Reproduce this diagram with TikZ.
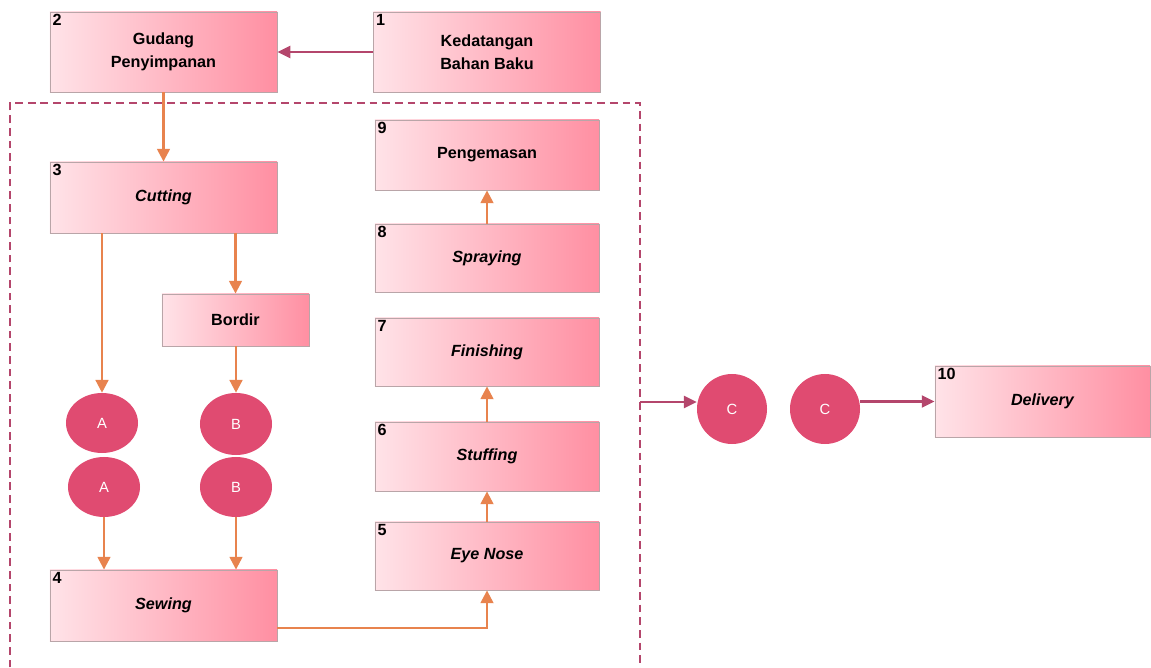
\documentclass[tikz,border=0pt]{standalone}
\usepackage{fontspec}
\setmainfont{Liberation Sans}
\usetikzlibrary{arrows.meta, shapes.geometric}
\usepackage{xcolor}

\definecolor{boxline}{HTML}{B9A5A8}
\definecolor{pinkL}{HTML}{FFE3E8}
\definecolor{pinkR}{HTML}{FF8FA2}
\definecolor{dot}{HTML}{E04B71}
\definecolor{maroon}{HTML}{B4466C}
\definecolor{orangeln}{HTML}{E8834E}

\tikzset{
	proc/.style={draw=boxline, line width=0.6pt, left color=pinkL, right color=pinkR, align=center, inner sep=0pt, minimum width=5.675cm,
		font=\bfseries\fontsize{11.5}{16}\selectfont},
	num/.style={anchor=north west, inner sep=2pt, font=\bfseries\fontsize{11.5}{12}\selectfont},
	conn/.style={ellipse, fill=dot, draw=none, text=white, inner sep=0pt, font=\fontsize{10.5}{12}\selectfont},
	flow/.style={draw=orangeln, line width=1.7pt, -{Triangle[length=0.32cm,width=0.32cm]}},
	link/.style={draw=maroon, line width=1.7pt, -{Triangle[length=0.32cm,width=0.3cm]}}
}

\begin{document}
\begin{tikzpicture}[x=0.025cm, y=-0.025cm]
	\useasboundingbox (0,0) rectangle (1151,668);
	% Boxes:
	\node[proc, minimum height=2cm] (b1) at (487, 52){Kedatangan\\Bahan Baku};
	\node[proc, minimum height=2cm] (b2) at (163.5, 52){Gudang\\Penyimpanan};
	\node[proc, minimum height=1.775cm] (b3) at (163.5, 197.5){\itshape Cutting};
	\node[proc, minimum height=1.3cm, minimum width=3.675cm] (bordir) at (235.5, 320){Bordir};
	\node[proc, minimum height=1.775cm] (b4) at (163.5, 605.5){\itshape Sewing};
	\node[proc, minimum height=1.7cm, minimum width=5.6cm] (b5) at (487, 556){\itshape Eye Nose};
	\node[proc, minimum height=1.725cm, minimum width=5.6cm] (b6) at (487, 456.5){\itshape Stuffing};
	\node[proc, minimum height=1.7cm, minimum width=5.6cm] (b7) at (487, 352){\itshape Finishing};
	\node[proc, minimum height=1.7cm, minimum width=5.6cm] (b8) at (487, 258){\itshape Spraying};
	\node[proc, minimum height=1.75cm, minimum width=5.6cm] (b9) at (487, 155){Pengemasan};
	\node[proc, minimum height=1.775cm, minimum width=5.375cm] (b10) at (1042.5, 401.5){\itshape Delivery};
	% Numbers:
	\node[num] (n1) at (b1.north west){1};
	\node[num] (n2) at (b2.north west){2};
	\node[num] (n3) at (b3.north west){3};
	\node[num] (n4) at (b4.north west){4};
	\node[num] (n5) at (b5.north west){5};
	\node[num] (n6) at (b6.north west){6};
	\node[num] (n7) at (b7.north west){7};
	\node[num] (n8) at (b8.north west){8};
	\node[num] (n9) at (b9.north west){9};
	\node[num] (n10) at (b10.north west){10};
	% Connectors:
	\node[conn, minimum width=1.8cm, minimum height=1.5cm] (a1) at (102, 423){A};
	\node[conn, minimum width=1.8cm, minimum height=1.5cm] (a2) at (104, 487){A};
	\node[conn, minimum width=1.8cm, minimum height=1.55cm] (bc1) at (236, 424){B};
	\node[conn, minimum width=1.8cm, minimum height=1.5cm] (bc2) at (236, 487){B};
	\node[conn, minimum width=1.75cm, minimum height=1.75cm] (c1) at (732, 409){C};
	\node[conn, minimum width=1.75cm, minimum height=1.75cm] (c2) at (825, 409){C};
	% Dashed frame:
	\draw[maroon, line width=1.4pt, dash pattern=on 5.5pt off 3.5pt] (10, 680) |- (640, 103) -- (640, 680);
	\coordinate (frameE) at (640, 402);
	% Arrows:
	\draw[link] (b1.west) -- (b2.east);
	\draw[flow] (b2.south) -- (b3.north);
	\draw[flow] (a1.north |- b3.south) -- (a1.north);
	\draw[flow] (bordir.north |- b3.south) -- (bordir.north);
	\draw[flow] (bc1.north |- bordir.south) -- (bc1.north);
	\draw[flow] (a2.south) -- (a2.south |- b4.north);
	\draw[flow] (bc2.south) -- (bc2.south |- b4.north);
	\draw[flow] ([yshift=-0.5625cm]b4.east) -| (b5.south);
	\draw[flow] (b5.north) -- (b6.south);
	\draw[flow] (b6.north) -- (b7.south);
	\draw[flow] (b8.north) -- (b9.south);
	\draw[link] (frameE) -- (frameE -| c1.west);
	\draw[link] (c2.east |- b10.west) -- (b10.west);
\end{tikzpicture}
\end{document}
